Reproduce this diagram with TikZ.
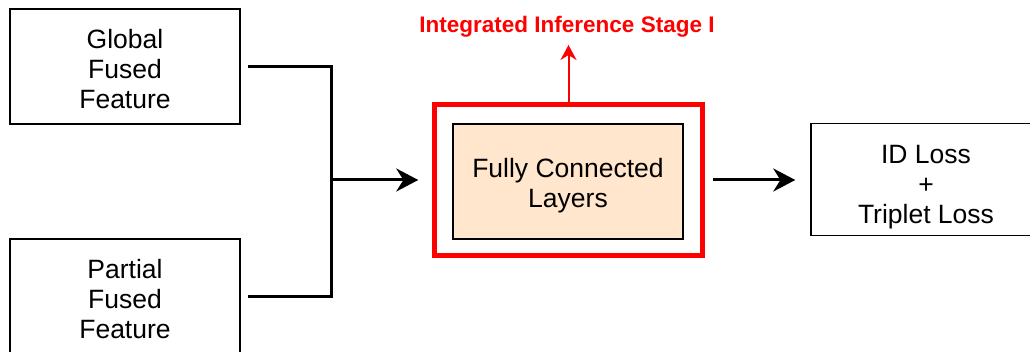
\documentclass[tikz,border=0pt]{standalone}
\usepackage{fontspec}
\setmainfont{Liberation Sans}
\usetikzlibrary{arrows.meta}
\definecolor{peach}{RGB}{255,230,204}
\newcommand{\lift}[1][25pt]{\rule{0pt}{#1}}
\begin{document}
\begin{tikzpicture}[x=1pt,y=-1pt,
        box/.style={draw,line width=1.5pt,minimum width=230pt,minimum height=115pt,
                    align=center,font=\fontsize{26.5}{30}\selectfont},
        conn/.style={line width=3pt},
        arr/.style={conn,-{Stealth[length=22pt,width=23pt]}}]
        \useasboundingbox (0,0) rectangle (1030,352);
        \node[box] (global) at (125,66.5) {\lift Global\\Fused\\Feature};
        \node[box] (partial) at (125,296.5) {\lift Partial\\Fused\\Feature};
        \node[box,fill=peach] (fc) at (568,181.5) {\lift[27pt]Fully Connected\\Layers};
        \node[draw=red,line width=5pt,minimum width=268.5pt,minimum height=151.5pt] (stage) at (568.5,180) {};
        \node[box,minimum height=112pt] (loss) at (926,179.5) {\lift[33pt]ID Loss\\+\\Triplet Loss};
        \node[text=red,inner sep=0pt,anchor=base,font=\bfseries\fontsize{22.5}{27}\selectfont] (title) at (567,33) {Integrated Inference Stage I};
        \coordinate (join) at (331,180);
        \draw[conn,shorten <=7pt,shorten >=7pt] (global.east) -| (join) |- (partial.east);
        \draw[arr,shorten >=13.5pt] (join) -- (stage.west);
        \draw[arr,shorten <=8pt,shorten >=15pt] (stage.east) -- (stage.east -| loss.west);
        \draw[red,line width=2pt,-{Stealth[length=15pt,width=16pt]},shorten >=7pt] (stage.north) -- (stage.north |- title.south);
    \end{tikzpicture}
\end{document}
